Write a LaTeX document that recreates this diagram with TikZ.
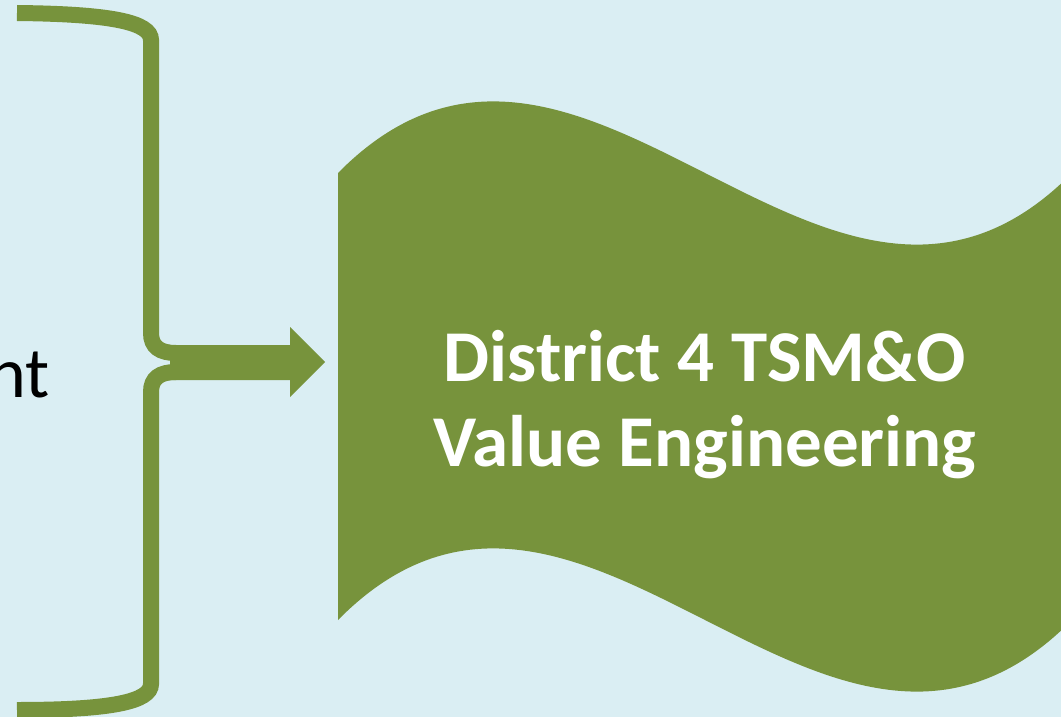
\documentclass[tikz,border=0pt]{standalone}
\usepackage{fontspec}
\setmainfont{Carlito}
\definecolor{olivegreen}{HTML}{77933C}
\definecolor{paleblue}{HTML}{DAEEF3}
\tikzset{bracestroke/.style={line width=16pt,olivegreen}}
\begin{document}
\begin{tikzpicture}[x=1pt,y=-1pt]
    \fill[paleblue] (0,0) rectangle (1061,717);
    \useasboundingbox (0,0) rectangle (1061,717);
    \clip (0,0) rectangle (1061,717);
    % brace
    \coordinate (tiptop) at (176,353);
    \coordinate (tipbot) at (176,372);
    \draw[bracestroke] (17,13) .. controls (110,14) and (151,22) .. (151,40) -- (151,333) .. controls (151,347) and (160,353) .. (tiptop);
    \draw[bracestroke] (tipbot) .. controls (160,372) and (151,378) .. (151,392) -- (151,684) .. controls (151,702) and (110,710) .. (17,710);
    % arrow
    \fill[olivegreen] (170,345) -- (290,345) -- (290,327) -- (325,362) -- (290,397) -- (290,380) -- (170,380) -- cycle;
    % wave
    \fill[olivegreen] (338,173) .. controls (583,-75) and (827,421) .. (1072,173) -- (1072,620) .. controls (827,868) and (583,372) .. (338,620) -- cycle;
    \node[white,font=\bfseries\fontsize{73}{85}\selectfont,align=center] (title) at (705,405) {District 4 TSM\&O\\Value Engineering};
    \node[anchor=base east,font=\fontsize{72}{80}\selectfont] (lefttext) at (53,397) {nt};
\end{tikzpicture}
\end{document}
